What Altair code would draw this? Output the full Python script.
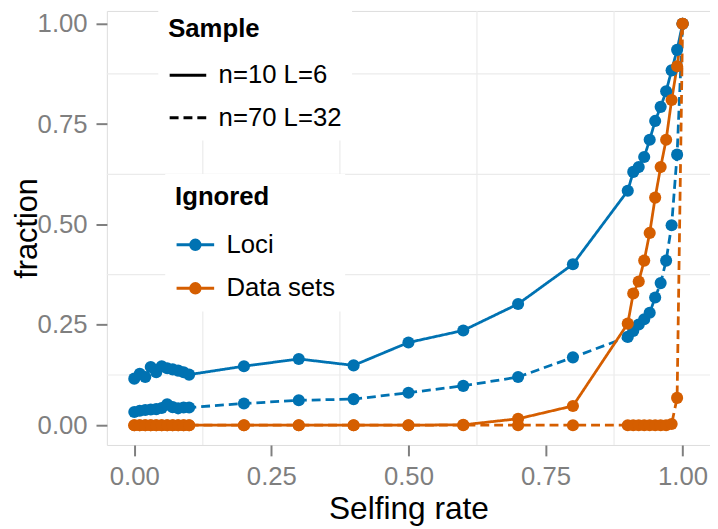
import altair as alt
import pandas as pd

# Selfing rates (x values)
selfing = [0.0, 0.01, 0.02, 0.03, 0.04, 0.05, 0.06, 0.07, 0.08, 0.09, 0.10,
           0.2, 0.3, 0.4, 0.5, 0.6, 0.7, 0.8,
           0.9, 0.91, 0.92, 0.93, 0.94, 0.95, 0.96, 0.97, 0.98, 0.99, 1.0]

# Fraction ignored: Loci
loci_n10 = [0.116, 0.128, 0.120, 0.145, 0.132, 0.147, 0.142, 0.139, 0.136, 0.132, 0.126,
            0.147, 0.165, 0.149, 0.206, 0.236, 0.302, 0.401,
            0.584, 0.631, 0.643, 0.668, 0.711, 0.758, 0.793, 0.832, 0.884, 0.935, 1.0]
loci_n70 = [0.033, 0.036, 0.038, 0.039, 0.040, 0.043, 0.052, 0.045, 0.042, 0.044, 0.044,
            0.054, 0.062, 0.065, 0.081, 0.098, 0.120, 0.169,
            0.220, 0.235, 0.251, 0.264, 0.280, 0.318, 0.354, 0.410, 0.498, 0.674, 1.0]
# Fraction ignored: Data sets
data_n10 = [0.0, 0.0, 0.0, 0.0, 0.0, 0.0, 0.0, 0.0, 0.0, 0.0, 0.0,
            0.0, 0.0, 0.0, 0.0, 0.001, 0.016, 0.048,
            0.253, 0.328, 0.358, 0.410, 0.479, 0.567, 0.643, 0.711, 0.810, 0.894, 1.0]
data_n70 = [0.0, 0.0, 0.0, 0.0, 0.0, 0.0, 0.0, 0.0, 0.0, 0.0, 0.0,
            0.0, 0.0, 0.0, 0.0, 0.0, 0.0, 0.0,
            0.0, 0.0, 0.0, 0.0, 0.0, 0.0, 0.0, 0.0, 0.003, 0.068, 1.0]

ignored_levels = ["Loci", "Data sets"]
sample_levels = ["n=10 L=6", "n=70 L=32"]
colors = ["#0072B2", "#D55E00"]

tick_values = [0.0, 0.25, 0.5, 0.75, 1.0]
minor_grid = [0.125, 0.375, 0.625, 0.875]

rows = []
for ign, smp, vals in [("Loci", sample_levels[0], loci_n10),
                       ("Loci", sample_levels[1], loci_n70),
                       ("Data sets", sample_levels[0], data_n10),
                       ("Data sets", sample_levels[1], data_n70)]:
    for s, v in zip(selfing, vals):
        rows.append({"selfing": s, "fraction": v, "ignored": ign, "sample": smp})
df = pd.DataFrame(rows)

gx = pd.DataFrame({"selfing": minor_grid})
gy = pd.DataFrame({"fraction": minor_grid})

FONT = "Liberation Sans"

x_scale = alt.Scale(domain=[-0.05, 1.05], nice=False, zero=False)
y_scale = alt.Scale(domain=[-0.0493, 1.032], nice=False, zero=False)

x_axis = alt.Axis(values=tick_values, format=".2f", title="Selfing rate", grid=False,
                  domain=False, ticks=True, tickColor="#7f7f7f", tickSize=11, tickWidth=2,
                  labelFontSize=26, labelColor="#7f7f7f", labelPadding=8, labelFont=FONT,
                  titleFontSize=32, titleFontWeight="normal", titleColor="black",
                  titlePadding=4, titleFont=FONT, labelFlush=False)
y_axis = alt.Axis(values=tick_values, format=".2f", title="fraction", grid=False,
                  domain=False, ticks=True, tickColor="#7f7f7f", tickSize=11, tickWidth=2,
                  labelFontSize=26, labelColor="#7f7f7f", labelPadding=9, labelFont=FONT,
                  titleFontSize=31, titleFontWeight="normal", titleColor="black",
                  titlePadding=-6, titleFont=FONT, labelFlush=False)

X = alt.X("selfing:Q", scale=x_scale, axis=x_axis)
Y = alt.Y("fraction:Q", scale=y_scale, axis=y_axis)

# line with a filled dot (dot filled by concentric stroked rings)
LINE_DOT = ("M-1,0H1"
            "M-0.25,0A0.25,0.25,0,1,1,0.25,0A0.25,0.25,0,1,1,-0.25,0"
            "M-0.09,0A0.09,0.09,0,1,1,0.09,0A0.09,0.09,0,1,1,-0.09,0")

color_legend = alt.Legend(
    title="Ignored", orient="none", legendX=59, legendY=165,
    symbolType=LINE_DOT, symbolSize=1444, symbolStrokeWidth=3, symbolOpacity=1,
    labelFontSize=26, labelFont=FONT, labelColor="black", labelOffset=11,
    titleFontSize=26, titleFont=FONT, titleFontWeight="bold", titleColor="black",
    titlePadding=15, rowPadding=10, padding=10, fillColor="white", zindex=1,
)
dash_legend = alt.Legend(
    title="Sample", orient="none", legendX=52, legendY=-5,
    symbolType="stroke", symbolSize=1369, symbolStrokeWidth=3, symbolStrokeColor="black",
    labelFontSize=26, labelFont=FONT, labelColor="black", labelOffset=11,
    titleFontSize=26, titleFont=FONT, titleFontWeight="bold", titleColor="black",
    titlePadding=14, rowPadding=10, padding=10, fillColor="white", zindex=1,
)

C = alt.Color("ignored:N", scale=alt.Scale(domain=ignored_levels, range=colors),
              sort=ignored_levels, legend=color_legend)
D = alt.StrokeDash("sample:N", scale=alt.Scale(domain=sample_levels, range=[[1, 0], [9, 5]]),
                   sort=sample_levels, legend=dash_legend)

grid_v = alt.Chart(gx).mark_rule(color="#EBEBEB", strokeWidth=1.2).encode(x=X)
grid_h = alt.Chart(gy).mark_rule(color="#EBEBEB", strokeWidth=1.2).encode(y=Y)

lines = alt.Chart(df).mark_line(strokeWidth=2.8).encode(
    x=X, y=Y, color=C, strokeDash=D, detail="sample:N")
points = alt.Chart(df).mark_circle(size=150, opacity=1).encode(
    x=X, y=Y, color=C, detail="sample:N")

chart = alt.layer(grid_v, grid_h, lines, points).properties(
    width=610, height=439,
    autosize=alt.AutoSizeParams(type="none"),
    padding={"left": 100, "top": 0, "right": 0, "bottom": 82},
    background="white",
).configure_view(stroke=None).configure(font=FONT)

chart.save("out.html", embed_options={"renderer": "svg", "actions": False})
